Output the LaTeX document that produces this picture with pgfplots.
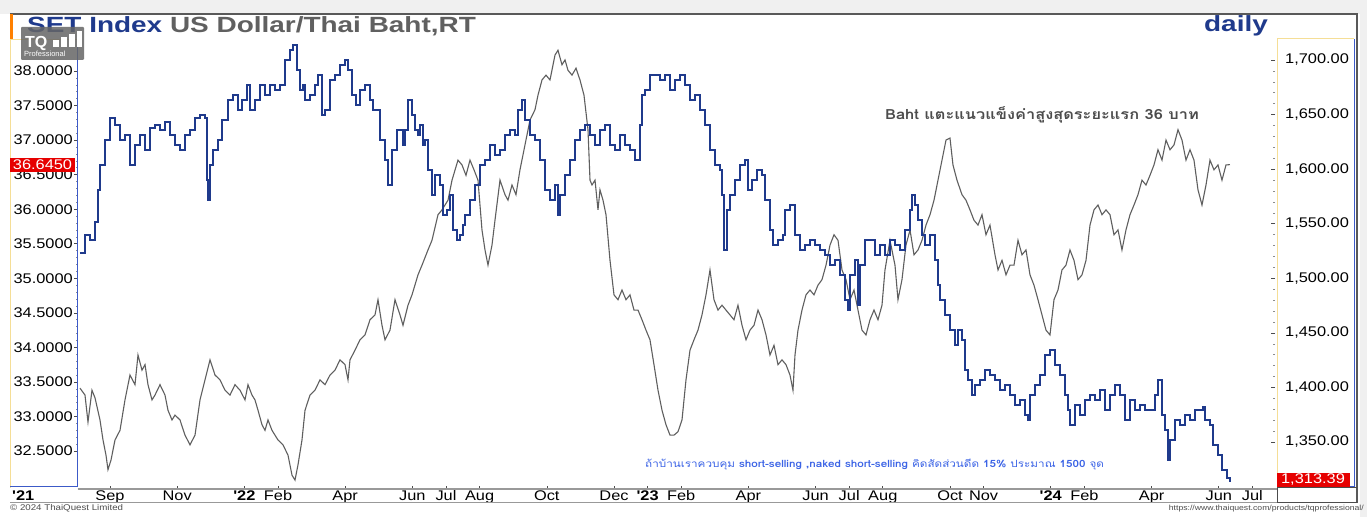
\documentclass[border=0pt]{standalone}
\usepackage{fontspec}
\setmainfont{Liberation Sans}
\newfontfamily\tickfont[FakeStretch=1.17]{Liberation Sans}
\newfontfamily\titlefont[FakeStretch=1.27]{Liberation Sans}
\newfontfamily\thaifont[Script=Thai, FakeStretch=1.17]{Loma}
\usepackage{pgfplots}
\pgfplotsset{compat=1.18}
\definecolor{setblue}{RGB}{31,58,140}
\definecolor{thbgray}{RGB}{95,95,95}
\definecolor{titlegray}{RGB}{96,96,96}
\definecolor{bggray}{RGB}{240,240,240}
\definecolor{panelyellow}{RGB}{245,222,150}
\definecolor{axisblue}{RGB}{60,90,200}
\definecolor{notblue}{RGB}{60,100,230}
\definecolor{tagred}{RGB}{230,0,0}

\pgfplotstableread{
m v
7.107 33.41
7.256 33.31
7.345 32.92
7.464 33.38
7.554 33.27
7.702 32.95
7.792 32.66
7.881 32.44
7.940 32.23
8.030 32.37
8.149 32.66
8.298 32.80
8.446 33.24
8.595 33.60
8.744 33.46
8.833 33.89
8.952 33.67
9.042 33.75
9.131 33.46
9.250 33.24
9.339 33.31
9.488 33.46
9.637 33.31
9.726 33.09
9.845 32.95
9.935 33.02
10.083 32.95
10.232 32.73
10.381 32.59
10.530 32.73
10.679 33.24
10.827 33.53
10.976 33.82
11.125 33.60
11.274 33.53
11.423 33.38
11.571 33.31
11.720 33.46
11.869 33.38
12.018 33.24
12.107 33.46
12.226 33.31
12.315 33.24
12.405 33.09
12.524 32.88
12.613 32.80
12.702 32.95
12.821 32.80
13.000 32.66
13.149 32.59
13.298 32.44
13.417 32.15
13.506 32.08
13.595 32.30
13.714 32.66
13.804 33.09
13.952 33.31
14.101 33.38
14.250 33.53
14.399 33.46
14.548 33.60
14.696 33.67
14.845 33.82
14.994 33.75
15.083 33.53
15.143 33.82
15.292 33.96
15.440 34.11
15.589 34.18
15.738 34.40
15.887 34.47
15.976 34.69
16.095 34.32
16.185 34.11
16.333 34.25
16.482 34.69
16.631 34.47
16.720 34.32
16.869 34.61
16.988 34.76
17.167 35.05
17.286 35.19
17.464 35.41
17.583 35.55
17.762 35.92
17.881 35.99
18.060 36.13
18.179 36.42
18.357 36.71
18.476 36.64
18.595 36.49
18.714 36.71
18.833 36.57
18.952 36.42
19.071 35.70
19.161 35.41
19.250 35.19
19.369 35.48
19.458 35.84
19.607 36.42
19.756 36.21
19.845 36.13
19.964 36.35
20.083 36.21
20.202 36.57
20.351 36.93
20.500 37.29
20.649 37.44
20.738 37.65
20.857 37.87
20.976 37.94
21.095 37.87
21.244 38.23
21.333 38.30
21.452 38.09
21.542 38.16
21.631 38.01
21.750 37.94
21.869 38.04
21.988 37.87
22.107 37.65
22.226 37.15
22.286 36.42
22.345 36.35
22.435 36.42
22.524 35.99
22.583 36.28
22.673 36.13
22.762 35.92
22.881 35.26
23.000 34.76
23.119 34.69
23.238 34.83
23.357 34.69
23.476 34.76
23.595 34.54
23.714 34.54
23.833 34.40
23.952 34.25
24.071 34.11
24.190 33.75
24.310 33.38
24.429 33.09
24.548 32.88
24.667 32.73
24.786 32.73
24.905 32.78
25.024 32.95
25.143 33.53
25.262 33.96
25.381 34.11
25.500 34.25
25.619 34.47
25.738 34.76
25.857 35.12
25.976 34.69
26.095 34.54
26.214 34.61
26.333 34.54
26.452 34.47
26.571 34.40
26.690 34.61
26.810 34.32
26.929 34.11
27.048 34.25
27.167 34.32
27.286 34.54
27.405 34.40
27.524 34.18
27.643 33.89
27.762 34.03
27.881 33.75
28.000 33.82
28.119 33.75
28.238 33.60
28.327 33.38
28.387 33.89
28.476 34.25
28.595 34.54
28.714 34.76
28.833 34.83
28.952 34.76
29.071 34.90
29.190 34.98
29.310 35.19
29.429 35.48
29.548 35.63
29.667 35.55
29.786 35.12
29.905 34.98
30.024 34.69
30.143 34.83
30.262 34.54
30.381 34.25
30.500 34.18
30.619 34.40
30.738 34.54
30.857 34.40
30.976 34.61
31.065 35.12
31.214 35.55
31.363 35.19
31.452 34.69
31.571 34.98
31.690 35.48
31.810 35.70
31.929 35.34
32.048 35.41
32.167 35.55
32.286 35.77
32.405 35.92
32.524 36.13
32.643 36.42
32.762 36.71
32.881 37.00
33.000 37.03
33.089 36.64
33.208 36.42
33.357 36.21
33.476 36.13
33.595 35.99
33.714 35.84
33.833 35.77
33.952 35.92
34.071 35.63
34.190 35.77
34.339 35.34
34.429 35.12
34.548 35.26
34.667 35.05
34.786 35.19
34.905 35.19
35.024 35.55
35.143 35.34
35.262 35.41
35.381 35.05
35.500 34.90
35.619 34.69
35.738 34.47
35.857 34.25
35.976 34.18
36.095 34.69
36.214 34.83
36.333 35.12
36.452 35.19
36.571 35.41
36.690 35.26
36.810 34.98
36.929 35.05
37.048 35.26
37.167 35.77
37.286 35.99
37.405 36.06
37.524 35.92
37.643 35.99
37.762 35.92
37.881 35.63
38.000 35.70
38.119 35.41
38.238 35.70
38.357 35.92
38.476 36.06
38.595 36.21
38.714 36.42
38.833 36.35
38.952 36.49
39.071 36.64
39.190 36.86
39.310 36.71
39.429 37.00
39.548 36.86
39.667 36.93
39.786 37.15
39.905 37.00
40.024 36.71
40.143 36.86
40.262 36.71
40.381 36.28
40.500 36.06
40.619 36.35
40.738 36.71
40.857 36.57
40.976 36.64
41.095 36.42
41.214 36.64
41.333 36.645
}\thbtable

\pgfplotstableread{
m v
7.107 1523.2
7.256 1539.7
7.405 1535.1
7.554 1551.6
7.643 1580.9
7.702 1603.8
7.851 1626.7
8.000 1646.9
8.149 1640.4
8.298 1626.7
8.446 1631.3
8.595 1603.8
8.744 1622.1
8.893 1631.3
9.042 1617.5
9.190 1637.7
9.339 1640.4
9.488 1635.9
9.637 1643.2
9.786 1631.3
9.935 1622.1
10.083 1617.5
10.232 1631.3
10.381 1635.9
10.530 1646.9
10.679 1649.6
10.827 1646.9
10.887 1590.0
10.917 1571.7
10.976 1603.8
11.065 1617.5
11.214 1626.7
11.333 1645.0
11.512 1663.3
11.661 1667.9
11.810 1654.2
11.929 1663.3
12.077 1677.1
12.167 1654.2
12.315 1663.3
12.464 1677.1
12.613 1667.9
12.762 1677.1
12.911 1672.5
13.060 1677.1
13.208 1700.0
13.357 1709.2
13.446 1713.7
13.565 1690.8
13.655 1672.5
13.744 1677.1
13.804 1663.3
13.952 1667.9
14.101 1677.1
14.190 1686.3
14.310 1649.6
14.399 1654.2
14.548 1681.7
14.696 1686.3
14.845 1695.4
14.994 1700.0
15.083 1690.8
15.202 1667.9
15.321 1658.8
15.440 1672.5
15.589 1677.1
15.738 1663.3
15.827 1654.2
15.976 1654.2
16.036 1626.7
16.185 1608.4
16.274 1585.5
16.393 1617.5
16.542 1635.9
16.720 1622.1
16.780 1635.9
16.869 1663.3
16.988 1649.6
17.077 1635.9
17.167 1631.3
17.226 1640.4
17.315 1622.1
17.375 1626.7
17.464 1599.2
17.583 1576.3
17.673 1594.6
17.821 1585.5
17.911 1558.0
18.030 1562.6
18.119 1576.3
18.208 1544.2
18.327 1535.1
18.417 1539.7
18.506 1548.8
18.565 1558.0
18.714 1571.7
18.863 1585.5
19.012 1603.8
19.161 1608.4
19.310 1622.1
19.458 1613.0
19.607 1617.5
19.756 1631.3
19.905 1635.9
20.054 1631.3
20.143 1654.2
20.262 1663.3
20.351 1645.0
20.500 1631.3
20.649 1626.7
20.798 1608.4
20.946 1580.9
21.095 1571.7
21.244 1585.5
21.333 1558.0
21.393 1576.3
21.542 1594.6
21.690 1608.4
21.839 1626.7
21.988 1635.9
22.137 1640.4
22.286 1631.3
22.435 1622.1
22.583 1635.9
22.732 1640.4
22.881 1622.1
23.030 1617.5
23.179 1631.3
23.327 1622.1
23.476 1617.5
23.625 1608.4
23.774 1640.4
23.833 1667.9
23.923 1672.5
24.071 1686.3
24.220 1686.3
24.369 1681.7
24.518 1686.3
24.667 1672.5
24.815 1681.7
24.964 1686.3
25.113 1677.1
25.262 1663.3
25.411 1667.9
25.560 1654.2
25.708 1640.4
25.857 1617.5
26.006 1603.8
26.155 1599.2
26.214 1576.3
26.274 1525.9
26.363 1562.6
26.452 1576.3
26.601 1590.0
26.750 1603.8
26.899 1608.4
26.988 1580.9
27.107 1590.0
27.256 1599.2
27.405 1594.6
27.494 1571.7
27.643 1544.2
27.732 1530.5
27.881 1535.1
28.030 1539.7
28.089 1562.6
28.238 1567.1
28.387 1539.7
28.536 1525.9
28.685 1530.5
28.833 1535.1
28.982 1530.5
29.131 1525.9
29.280 1521.3
29.429 1512.2
29.577 1516.8
29.726 1503.0
29.875 1480.1
29.964 1470.9
30.024 1503.0
30.173 1516.8
30.262 1475.5
30.321 1512.2
30.470 1535.1
30.619 1535.1
30.768 1521.3
30.917 1530.5
31.065 1521.3
31.214 1535.1
31.363 1530.5
31.512 1525.9
31.661 1544.2
31.810 1562.6
31.869 1576.3
31.958 1567.1
32.048 1553.4
32.167 1539.7
32.256 1530.5
32.405 1539.7
32.554 1516.8
32.643 1493.8
32.702 1480.1
32.851 1466.4
33.000 1452.6
33.149 1438.9
33.238 1452.6
33.357 1443.4
33.446 1416.0
33.536 1406.8
33.655 1393.1
33.744 1402.2
33.893 1406.8
34.042 1416.0
34.190 1411.4
34.339 1406.8
34.488 1397.6
34.637 1402.2
34.786 1393.1
34.935 1383.9
35.083 1388.5
35.232 1374.7
35.321 1370.1
35.381 1393.1
35.530 1402.2
35.679 1411.4
35.827 1429.7
35.976 1434.3
36.125 1420.5
36.274 1411.4
36.423 1393.1
36.512 1379.3
36.571 1365.6
36.720 1383.9
36.869 1374.7
37.018 1388.5
37.167 1393.1
37.315 1388.5
37.464 1397.6
37.613 1379.3
37.762 1393.1
37.911 1402.2
38.060 1393.1
38.208 1370.1
38.357 1388.5
38.506 1379.3
38.655 1383.9
38.804 1379.3
38.952 1379.3
39.101 1393.1
39.190 1406.8
39.310 1374.7
39.399 1361.0
39.488 1333.5
39.548 1351.8
39.696 1370.1
39.845 1365.6
39.994 1374.7
40.143 1370.1
40.292 1379.3
40.440 1379.3
40.530 1382.1
40.589 1370.1
40.738 1365.6
40.827 1347.2
40.976 1338.1
41.095 1324.3
41.244 1317.0
41.333 1313.39
}\settable

\begin{document}
\begin{tikzpicture}[x=1bp,y=1bp]
\path[use as bounding box] (0,0) rectangle (1367,517);
\fill[white] (0,0) rectangle (1367,517);
\fill[bggray] (0,503) rectangle (1367,517);
\fill[bggray] (1360,0) rectangle (1367,503);

% title
\node[anchor=base west, inner sep=0pt] at (27,484)
  {\titlefont\fontsize{22bp}{24bp}\selectfont\bfseries\textcolor{setblue}{SET Index} \textcolor{titlegray}{US Dollar/Thai Baht,RT}};
\node[anchor=base east, inner sep=0pt] at (1268,485)
  {\titlefont\fontsize{22bp}{24bp}\selectfont\bfseries\textcolor{setblue}{daily}};

% axes
\begin{axis}[
  at={(78bp,31bp)}, anchor=south west, scale only axis,
  width=1197bp, height=446bp,
  xmin=7.0476, xmax=42.673, ymin=31.9941, ymax=38.4486,
  axis x line*=bottom, axis y line*=left,
  axis line style={draw=none},
  xtick={8,10,12,13,15,17,18,19,21,23,24,25,27,29,30,31,33,34,36,37,39,41,42},
  xticklabels={Sep,Nov,{\textbf{'22}},Feb,Apr,Jun,Jul,Aug,Oct,Dec,{\textbf{'23}},Feb,Apr,Jun,Jul,Aug,Oct,Nov,{\textbf{'24}},Feb,Apr,Jun,Jul},
  ytick={32.5,33,33.5,34,34.5,35,35.5,36,36.5,37,37.5,38},
  minor y tick num=4,
  tick align=outside,
  major tick length=4bp, minor tick length=2bp,
  tick style={draw=black!70, line width=0.6bp},
  minor tick style={draw=black!45, line width=0.5bp},
  yticklabel style={font=\tickfont\fontsize{14bp}{16bp}\selectfont, anchor=east, inner sep=1bp,
     /pgf/number format/fixed, /pgf/number format/fixed zerofill, /pgf/number format/precision=4,
     /pgf/number format/assume math mode=true},
  xticklabel style={font=\tickfont\fontsize{14bp}{16bp}\selectfont, anchor=base, yshift=-11bp, inner sep=0pt},
]
\addplot[thbgray, line width=1.1bp] table[x=m, y=v] {\thbtable};
\end{axis}

\begin{axis}[
  at={(78bp,31bp)}, anchor=south west, scale only axis,
  width=1197bp, height=446bp,
  xmin=7.0476, xmax=42.673, ymin=1309.68, ymax=1718.33,
  axis x line=none, axis y line*=right,
  axis line style={draw=none},
  ytick={1350,1400,1450,1500,1550,1600,1650,1700},
  minor y tick num=4,
  tick align=inside,
  major tick length=4bp, minor tick length=2bp,
  tick style={draw=black!70, line width=0.6bp},
  minor tick style={draw=black!45, line width=0.5bp},
  yticklabel style={font=\tickfont\fontsize{14bp}{16bp}\selectfont, anchor=west, inner sep=0pt, xshift=10bp,
     /pgf/number format/fixed, /pgf/number format/fixed zerofill, /pgf/number format/precision=2,
     /pgf/number format/1000 sep={,}, /pgf/number format/assume math mode=true},
]
\addplot[setblue, line width=2.2bp, const plot] table[x=m, y=v] {\settable};
\end{axis}

% panels and frame
\draw[black!65, line width=1.2bp] (10,503) -- (1357,503) -- (1357,14);
\fill[orange] (10,477) rectangle (12.5,503);
\draw[panelyellow, line width=1bp] (10.5,477) -- (10.5,29);
\draw[panelyellow, line width=1bp] (10,477) -- (77,477);
\draw[axisblue, line width=1bp] (77.5,477) -- (77.5,30);
\draw[axisblue, line width=1bp] (10,30) -- (77.5,30);
\draw[panelyellow, line width=1bp] (1277,478) -- (1277,30);
\draw[panelyellow, line width=1bp] (1277,478) -- (1354,478);
\draw[axisblue, line width=1bp] (1354.5,478) -- (1354.5,30);
\draw[axisblue, line width=1bp] (1277,30) -- (1354.5,30);
\draw[black!40, line width=1.8bp] (77.5,28.3) -- (1277,28.3);
\draw[black!40, line width=1bp] (10,14) -- (1277,14);
\draw[black!70, line width=1bp] (1277,29) -- (1277,14) -- (1357,14);
\draw[black!70, line width=1bp] (1277,29) -- (1357,29);

\node[anchor=base west, inner sep=0pt] at (12,16)
  {\tickfont\fontsize{14bp}{16bp}\selectfont\bfseries '21};

% logo
\fill[black!60, opacity=0.85, rounded corners=1bp] (21,457) rectangle (84,490);
\node[anchor=base west, inner sep=0pt, white] at (25,469)
  {\fontsize{16bp}{16bp}\selectfont\bfseries TQ};
\fill[white] (53,470) rectangle (59,477);
\fill[white] (61,470) rectangle (67,480);
\fill[white] (69,470) rectangle (75,483);
\fill[white] (77,470) rectangle (82,486);
\node[anchor=base west, inner sep=0pt, white] at (24,460)
  {\fontsize{7.5bp}{7.5bp}\selectfont Professional};

% red value tags
\node[fill=tagred, text=white, inner sep=1bp, minimum width=65bp, minimum height=14bp] at (42.5,352)
  {\tickfont\fontsize{14bp}{14bp}\selectfont 36.6450};
\node[fill=tagred, text=white, inner sep=1bp, minimum width=73bp, minimum height=14bp] at (1313,37)
  {\tickfont\fontsize{14bp}{14bp}\selectfont 1,313.39};

% annotations
\node[anchor=west, inner sep=0pt, text=black!70] at (885,402)
  {\thaifont\fontsize{14bp}{16bp}\selectfont\bfseries Baht แตะแนวแข็งค่าสูงสุดระยะแรก 36 บาท};
\node[anchor=west, inner sep=0pt, text=notblue] at (645,52)
  {\thaifont\fontsize{10bp}{12bp}\selectfont ถ้าบ้านเราควบคุม \textbf{short-selling ,naked short-selling} คิดสัดส่วนดีด \textbf{15\%} ประมาณ \textbf{1500} จุด};

% footer
\node[anchor=base west, inner sep=0pt, text=black!70] at (10,6)
  {\tickfont\fontsize{8.3bp}{9bp}\selectfont © 2024 ThaiQuest Limited};
\node[anchor=base east, inner sep=0pt, text=black!70] at (1364,6)
  {\tickfont\fontsize{7.4bp}{8bp}\selectfont https://www.thaiquest.com/products/tqprofessional/};
\end{tikzpicture}
\end{document}
